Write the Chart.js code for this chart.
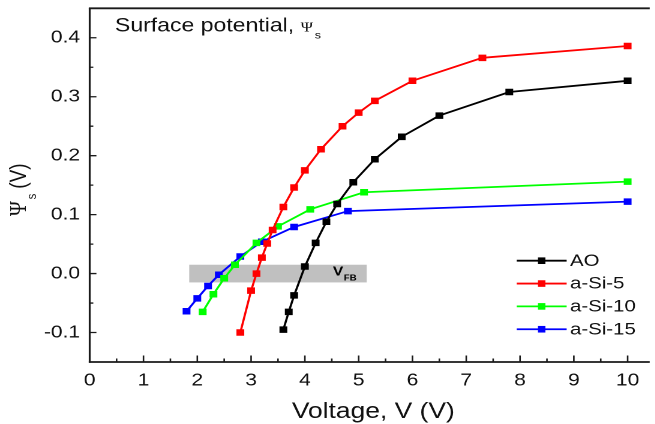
<!DOCTYPE html>
<html><head><meta charset="utf-8">
<script src="https://cdn.jsdelivr.net/npm/chart.js@4/dist/chart.umd.min.js"></script>
<style>
html,body{margin:0;padding:0;background:#fff;overflow:hidden;width:655px;height:424px}
#wrap{position:absolute;left:0;top:0;width:546px;height:424px;transform:scaleX(1.2);transform-origin:0 0}
</style></head><body>
<div id="wrap"><canvas id="c"></canvas></div>
<script>
// ---- data ----
const xTicks = [0,1,2,3,4,5,6,7,8,9,10];
const xMinorTicks = [0.5,1.5,2.5,3.5,4.5,5.5,6.5,7.5,8.5,9.5];
const yTicks = [-0.1,0,0.1,0.2,0.3,0.4];
const yMinorTicks = [-0.05,0.05,0.15,0.25,0.35];
const seriesNames = ['AO','a-Si-5','a-Si-10','a-Si-15'];
const seriesColors = ['#000000','#ff0000','#00ff00','#0000ff'];

const aoV   = [3.6,3.7,3.8,4.0,4.2,4.4,4.6,4.9,5.3,5.8,6.5,7.8,10];
const aoPsi = [-0.095,-0.065,-0.037,0.012,0.052,0.088,0.118,0.155,0.194,0.232,0.268,0.308,0.327];

const si5V   = [2.8,3.0,3.1,3.2,3.3,3.4,3.6,3.8,4.0,4.3,4.7,5.0,5.3,6.0,7.3,10];
const si5Psi = [-0.1,-0.029,0.0,0.027,0.051,0.074,0.113,0.146,0.175,0.211,0.25,0.273,0.293,0.327,0.366,0.386];

const si10V   = [2.1,2.3,2.5,2.7,3.1,3.5,4.1,5.1,10];
const si10Psi = [-0.065,-0.035,-0.008,0.015,0.052,0.08,0.109,0.138,0.156];

const si15V   = [1.8,2.0,2.2,2.4,2.8,3.2,3.8,4.8,10];
const si15Psi = [-0.064,-0.042,-0.021,-0.002,0.029,0.054,0.079,0.106,0.122];

const vfbBoxV   = [1.85,5.15];
const vfbBoxPsi = [-0.015,0.015];
const vfbLabelV = 4.52;

const xRange = [0,10.41];
const yRange = [-0.15,0.45];

// ---- build ----
const pairs = (xs,ys)=>xs.map((v,i)=>({x:v,y:ys[i]}));
const seriesData = [pairs(aoV,aoPsi),pairs(si5V,si5Psi),pairs(si10V,si10Psi),pairs(si15V,si15Psi)];

const SANS = '"Liberation Sans", Arial, sans-serif';
const SERIF = '"Liberation Serif", "Times New Roman", serif';

const deco = {
  id:'deco',
  beforeDatasetsDraw(chart){
    const {ctx, scales:{x,y}} = chart;
    ctx.save();
    ctx.fillStyle = '#c0c0c0';
    const x0=x.getPixelForValue(vfbBoxV[0]), x1=x.getPixelForValue(vfbBoxV[1]);
    const y0=y.getPixelForValue(vfbBoxPsi[1]), y1=y.getPixelForValue(vfbBoxPsi[0]);
    ctx.fillRect(x0,y0,x1-x0,y1-y0);
    ctx.fillStyle = '#000';
    ctx.textBaseline = 'alphabetic';
    ctx.textAlign = 'left';
    const lx = x.getPixelForValue(vfbLabelV), ly = y.getPixelForValue(0)+2;
    ctx.font = 'bold 13px '+SANS;
    ctx.fillText('V',lx,ly);
    const w = ctx.measureText('V').width;
    ctx.font = 'bold 8px '+SANS;
    ctx.fillText('FB',lx+w+0.5,ly+5);
    ctx.restore();
  },
  afterDraw(chart){
    const {ctx, chartArea:ca, scales:{x,y}} = chart;
    ctx.save();
    ctx.strokeStyle = '#1a1a1a';
    // axes and top frame
    ctx.lineWidth = 1.6;
    ctx.beginPath(); ctx.moveTo(ca.left, ca.top); ctx.lineTo(ca.left, ca.bottom+0.8); ctx.stroke();
    ctx.lineWidth = 1.8;
    ctx.beginPath(); ctx.moveTo(ca.left-0.8, ca.bottom); ctx.lineTo(ca.right, ca.bottom); ctx.stroke();
    ctx.beginPath(); ctx.moveTo(ca.left-0.8, ca.top); ctx.lineTo(ca.right, ca.top); ctx.stroke();
    // inward ticks
    ctx.lineWidth = 1.3;
    ctx.beginPath();
    yTicks.forEach(v=>{const p=y.getPixelForValue(v); ctx.moveTo(ca.left,p); ctx.lineTo(ca.left+5.6,p);});
    yMinorTicks.forEach(v=>{const p=y.getPixelForValue(v); ctx.moveTo(ca.left,p); ctx.lineTo(ca.left+3,p);});
    xTicks.forEach(v=>{const p=x.getPixelForValue(v); ctx.moveTo(p,ca.bottom); ctx.lineTo(p,ca.bottom-6.5);});
    xMinorTicks.forEach(v=>{const p=x.getPixelForValue(v); ctx.moveTo(p,ca.bottom); ctx.lineTo(p,ca.bottom-3.5);});
    ctx.stroke();

    ctx.fillStyle = '#111';
    ctx.textBaseline = 'alphabetic';
    // x title
    ctx.textAlign = 'center';
    ctx.font = '22px '+SANS;
    ctx.fillText('Voltage, V (V)', (ca.left+ca.right)/2+3, 418);

    // chart title
    ctx.textAlign = 'left';
    ctx.font = '19.2px '+SANS;
    const t1 = 'Surface potential, ';
    ctx.fillText(t1, 95.8, 31.7);
    let tx = 95.8 + ctx.measureText(t1).width;
    ctx.font = '14px '+SERIF;
    ctx.fillText('\u03A8', tx, 31.7);
    tx += ctx.measureText('\u03A8').width + 1.5;
    ctx.font = '10.5px '+SANS;
    ctx.fillText('s', tx, 38.5);

    // y title (rotated)
    ctx.save();
    ctx.translate(21.7, 216);
    ctx.rotate(-Math.PI/2);
    ctx.font = '20px '+SERIF;
    ctx.fillText('\u03A8', 0, 0);
    let t = ctx.measureText('\u03A8').width + 2;
    ctx.font = '11px '+SANS;
    ctx.fillText('s', t, 8.5);
    t += ctx.measureText('s').width + 5;
    ctx.font = '19px '+SANS;
    ctx.fillText('(V)', t, 0);
    ctx.restore();

    // legend
    const ly0 = 260.7, lstep = 22.85;
    chart.data.datasets.forEach((ds,i)=>{
      const yy = ly0 + i*lstep;
      ctx.strokeStyle = ds.borderColor;
      ctx.lineWidth = 1.8;
      ctx.beginPath(); ctx.moveTo(430.6,yy); ctx.lineTo(472.2,yy); ctx.stroke();
      ctx.fillStyle = ds.backgroundColor;
      ctx.fillRect(451.4-3.1, yy-3.3, 6.2, 6.6);
      ctx.fillStyle = '#111';
      ctx.font = '17px '+SANS;
      ctx.textBaseline = 'middle';
      ctx.textAlign = 'left';
      ctx.fillText(ds.label, 475, yy+0.5);
    });
    ctx.restore();
  }
};

new Chart(document.getElementById('c'), {
  type:'line',
  data:{
    datasets: seriesNames.map((n,i)=>({
      label:n,
      data:seriesData[i],
      borderColor:seriesColors[i],
      backgroundColor:seriesColors[i],
      borderWidth:1.8,
      pointStyle:'rect',
      pointRadius:4.6,
      pointBorderWidth:0,
      pointHoverRadius:4.6,
      tension:0,
      fill:false
    }))
  },
  options:{
    responsive:true,
    maintainAspectRatio:false,
    devicePixelRatio:2,
    animation:false,
    layout:{padding:{top:8.3,right:0,left:0,bottom:0}},
    plugins:{legend:{display:false},tooltip:{enabled:false},title:{display:false}},
    scales:{
      x:{
        type:'linear', min:xRange[0], max:xRange[1],
        afterBuildTicks:s=>{s.ticks = xTicks.map(v=>({value:v}));},
        afterFit:s=>{s.height = 62; s.paddingLeft = 0; s.paddingRight = 0;},
        grid:{display:false, drawTicks:false},
        border:{display:false},
        ticks:{font:{family:SANS,size:17.5}, color:'#111', padding:8, maxRotation:0, autoSkip:false, callback:v=>String(v)}
      },
      y:{
        type:'linear', min:yRange[0], max:yRange[1],
        afterBuildTicks:s=>{s.ticks = yTicks.map(v=>({value:v}));},
        afterFit:s=>{s.width = 74.75; s.paddingTop = 0; s.paddingBottom = 0;},
        grid:{display:false, drawTicks:false},
        border:{display:false},
        ticks:{font:{family:SANS,size:17.5}, color:'#111', padding:8, autoSkip:false, callback:v=>v.toFixed(1)}
      }
    }
  },
  plugins:[deco]
});
</script>
</body></html>
